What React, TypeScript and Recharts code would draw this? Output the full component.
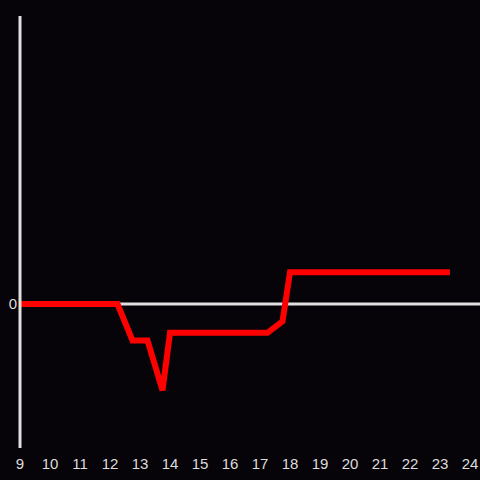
import { LineChart, Line, XAxis, YAxis, ReferenceLine } from "recharts";

// hour of day
const hours = [9, 12.25, 12.75, 13.25, 13.75, 14, 17.25, 17.75, 18, 23.23];
// deviation from baseline
const values = [0, 0, -0.38, -0.38, -0.9, -0.3, -0.3, -0.18, 0.33, 0.33];
const xTicks = [9, 10, 11, 12, 13, 14, 15, 16, 17, 18, 19, 20, 21, 22, 23, 24];
const yTicks = [0];

const data = hours.map((h, i) => ({ hour: h, value: values[i] }));

const axisColor = "#e0e0e0";
const textColor = "#dddddd";
const fontFamily = "Liberation Sans, Arial, sans-serif";

function XTick({ x, y, payload }: any) {
  return (
    <text x={x} y={y + 13} textAnchor="middle" fontSize={15} fontFamily={fontFamily} fill={textColor}>
      {payload.value}
    </text>
  );
}

function YTick({ x, y, payload }: any) {
  return (
    <text x={x + 1} y={y + 5} textAnchor="end" fontSize={15} fontFamily={fontFamily} fill={textColor}>
      {payload.value}
    </text>
  );
}

export default function App() {
  return (
    <div style={{ position: "absolute", left: 0, top: 0, width: 480, height: 480, background: "#060408" }}>
      <LineChart width={480} height={480} data={data} margin={{ top: 16, right: 0, bottom: 0, left: 0 }}>
        <XAxis
          dataKey="hour"
          type="number"
          domain={[9, 24.333]}
          ticks={xTicks}
          axisLine={false}
          tickLine={false}
          tick={<XTick />}
          height={32}
          interval={0}
          allowDataOverflow
        />
        <YAxis
          type="number"
          domain={[-1.5, 3]}
          ticks={yTicks}
          width={20}
          axisLine={{ stroke: axisColor, strokeWidth: 3 }}
          tickLine={false}
          tickSize={4}
          tickMargin={0}
          tick={<YTick />}
        />
        <ReferenceLine y={0} stroke={axisColor} strokeWidth={3} />
        <Line
          type="linear"
          dataKey="value"
          stroke="#ff0000"
          strokeWidth={6}
          strokeLinecap="square"
          dot={false}
          activeDot={false}
          isAnimationActive={false}
        />
      </LineChart>
    </div>
  );
}
